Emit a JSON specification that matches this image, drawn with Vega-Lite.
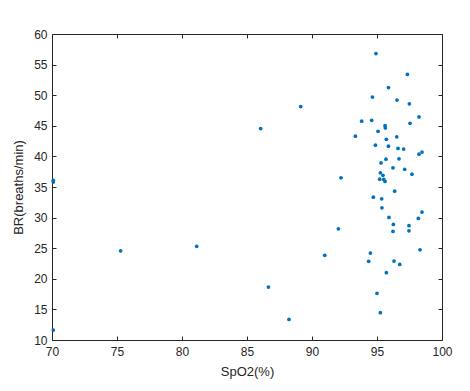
{
  "$schema": "https://vega.github.io/schema/vega-lite/v6.json",
  "autosize": "none",
  "padding": {"left": 52, "top": 34, "right": 28, "bottom": 51},
  "width": 390,
  "height": 306,
  "background": "white",
  "config": {
    "view": {"stroke": "#262626", "strokeWidth": 1},
    "font": "Liberation Sans"
  },
  "data": {
    "values": [
      {"spo2": 94.92, "br": 56.8}, {"spo2": 97.34, "br": 53.4}, {"spo2": 95.88, "br": 51.25},
      {"spo2": 94.65, "br": 49.7}, {"spo2": 96.54, "br": 49.2}, {"spo2": 97.49, "br": 48.6},
      {"spo2": 98.23, "br": 46.45}, {"spo2": 93.82, "br": 45.75}, {"spo2": 94.59, "br": 45.9},
      {"spo2": 97.54, "br": 45.4}, {"spo2": 95.62, "br": 45.04}, {"spo2": 95.64, "br": 44.66},
      {"spo2": 95.08, "br": 44.1}, {"spo2": 93.34, "br": 43.3}, {"spo2": 95.72, "br": 42.8},
      {"spo2": 96.52, "br": 43.2}, {"spo2": 94.88, "br": 41.83}, {"spo2": 95.88, "br": 41.67},
      {"spo2": 96.62, "br": 41.3}, {"spo2": 97.05, "br": 41.2}, {"spo2": 98.23, "br": 40.36},
      {"spo2": 98.46, "br": 40.7}, {"spo2": 95.69, "br": 39.55}, {"spo2": 96.69, "br": 39.6},
      {"spo2": 95.31, "br": 38.94}, {"spo2": 96.23, "br": 38.13}, {"spo2": 97.13, "br": 37.9},
      {"spo2": 95.26, "br": 37.31}, {"spo2": 97.69, "br": 37.1}, {"spo2": 95.46, "br": 36.9},
      {"spo2": 92.23, "br": 36.5}, {"spo2": 95.21, "br": 36.28}, {"spo2": 95.52, "br": 36.23},
      {"spo2": 95.62, "br": 35.9}, {"spo2": 96.36, "br": 34.32}, {"spo2": 94.72, "br": 33.34},
      {"spo2": 95.36, "br": 33.07}, {"spo2": 95.38, "br": 31.6}, {"spo2": 98.46, "br": 30.9},
      {"spo2": 98.18, "br": 29.87}, {"spo2": 95.92, "br": 30.03}, {"spo2": 96.26, "br": 28.88},
      {"spo2": 97.46, "br": 28.67}, {"spo2": 97.46, "br": 27.85}, {"spo2": 96.23, "br": 27.74},
      {"spo2": 92.03, "br": 28.17}, {"spo2": 98.31, "br": 24.74}, {"spo2": 94.49, "br": 24.2},
      {"spo2": 94.36, "br": 22.85}, {"spo2": 96.31, "br": 22.9}, {"spo2": 96.75, "br": 22.35},
      {"spo2": 95.72, "br": 20.99}, {"spo2": 95.0, "br": 17.62}, {"spo2": 95.26, "br": 14.46},
      {"spo2": 89.13, "br": 48.15}, {"spo2": 86.05, "br": 44.55}, {"spo2": 90.98, "br": 23.83},
      {"spo2": 86.65, "br": 18.65}, {"spo2": 88.23, "br": 13.37}, {"spo2": 75.28, "br": 24.58},
      {"spo2": 81.13, "br": 25.3}, {"spo2": 70.1, "br": 11.63}, {"spo2": 70.1, "br": 36.1},
      {"spo2": 70.1, "br": 35.8}
    ]
  },
  "layer": [
    {
      "mark": {"type": "point", "filled": true, "size": 14, "opacity": 0},
      "encoding": {
        "x": {
          "field": "spo2", "type": "quantitative",
          "scale": {"domain": [70, 100], "nice": false, "zero": false},
          "axis": {
            "orient": "top", "offset": -4, "domain": false, "labels": false, "title": null,
            "grid": false, "ticks": true, "tickSize": 4, "tickColor": "#262626",
            "values": [70, 75, 80, 85, 90, 95, 100]
          }
        },
        "y": {
          "field": "br", "type": "quantitative",
          "scale": {"domain": [10, 60], "nice": false, "zero": false},
          "axis": {
            "orient": "right", "offset": -4, "domain": false, "labels": false, "title": null,
            "grid": false, "ticks": true, "tickSize": 4, "tickColor": "#262626",
            "values": [10, 15, 20, 25, 30, 35, 40, 45, 50, 55, 60]
          }
        }
      }
    },
    {
      "mark": {"type": "point", "filled": true, "size": 14, "opacity": 1, "color": "#0072BD"},
      "encoding": {
        "x": {
          "field": "spo2", "type": "quantitative",
          "scale": {"domain": [70, 100], "nice": false, "zero": false},
          "axis": {
            "orient": "bottom", "offset": -4, "domain": false, "grid": false,
            "ticks": true, "tickSize": 4, "tickColor": "#262626",
            "values": [70, 75, 80, 85, 90, 95, 100],
            "labelPadding": 6, "labelFontSize": 12, "labelColor": "#262626",
            "labelFont": "Liberation Sans", "labelFlush": false,
            "title": "SpO2(%)", "titleFontSize": 13, "titleFontWeight": "normal",
            "titleColor": "#262626", "titleFont": "Liberation Sans", "titlePadding": 8
          }
        },
        "y": {
          "field": "br", "type": "quantitative",
          "scale": {"domain": [10, 60], "nice": false, "zero": false},
          "axis": {
            "orient": "left", "offset": -4, "domain": false, "grid": false,
            "ticks": true, "tickSize": 4, "tickColor": "#262626",
            "values": [10, 15, 20, 25, 30, 35, 40, 45, 50, 55, 60],
            "labelPadding": 5, "labelFontSize": 12, "labelColor": "#262626",
            "labelFont": "Liberation Sans", "labelFlush": false,
            "title": "BR(breaths/min)", "titleFontSize": 13, "titleFontWeight": "normal",
            "titleColor": "#262626", "titleFont": "Liberation Sans", "titlePadding": 8
          }
        }
      }
    }
  ],
  "resolve": {
    "scale": {"x": "independent", "y": "independent"},
    "axis": {"x": "independent", "y": "independent"}
  }
}
